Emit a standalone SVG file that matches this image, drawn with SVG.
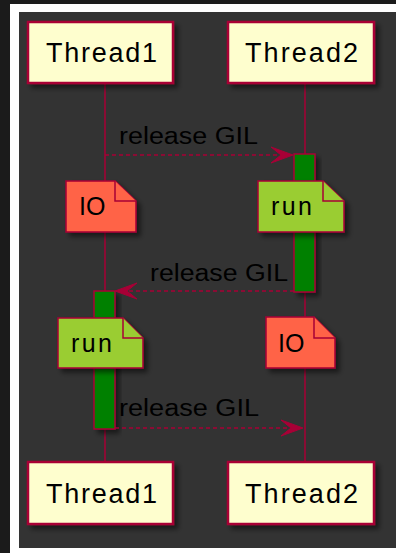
<svg xmlns="http://www.w3.org/2000/svg" width="396" height="553" viewBox="0 0 396 553">
<style>
.part{fill:#FEFECE;stroke:#A80036;stroke-width:2.5;filter:url(#sh)}
.ptxt{font-family:"Liberation Sans",Arial,sans-serif;font-size:27px;fill:#000}
.life{stroke:#A80036;stroke-width:1.5;fill:none}
.act{fill:#008000;stroke:#A80036;stroke-width:1.5;filter:url(#sh)}
.msg{stroke:#A80036;stroke-width:1.5;fill:none;stroke-dasharray:4,3}
.head{fill:#A80036;stroke:#A80036;stroke-width:1}
.mtxt{font-family:"Liberation Sans",Arial,sans-serif;font-size:23px;fill:#000}
.note{stroke:#A80036;stroke-width:1.5;filter:url(#sh)}
.fold{stroke:#A80036;stroke-width:1.5}
.io{fill:#FF6347}
.run{fill:#9ACD32}
.ntxt{font-family:"Liberation Sans",Arial,sans-serif;font-size:25px;fill:#000}
</style>
<defs>
<filter id="sh" x="-20%" y="-20%" width="150%" height="150%">
<feGaussianBlur in="SourceAlpha" stdDeviation="2.5"/>
<feOffset dx="4" dy="4" result="b"/>
<feComponentTransfer><feFuncA type="linear" slope="0.5"/></feComponentTransfer>
<feMerge><feMergeNode/><feMergeNode in="SourceGraphic"/></feMerge>
</filter>
</defs>
<rect x="0" y="0" width="396" height="553" fill="#1b1b1b"/>
<rect x="10" y="4" width="386" height="549" fill="#ffffff"/>
<rect x="19" y="12" width="377" height="536" fill="#333333"/>
<g id="lifelines">
<line class="life" x1="105" y1="83" x2="105" y2="462"/>
<line class="life" x1="305" y1="83" x2="305" y2="462"/>
</g>
<g id="act2"><rect class="act" x="294" y="154" width="21" height="138"/></g>
<g id="act1"><rect class="act" x="94" y="291" width="21" height="138"/></g>
<g id="connectors">
<line class="msg" x1="105" y1="155" x2="290" y2="155"/>
<polygon class="head" points="293,155 271,147 281,155 271,163"/>
<text class="mtxt" x="119" y="144" textLength="139" lengthAdjust="spacingAndGlyphs">release GIL</text>
<line class="msg" x1="294" y1="291" x2="118" y2="291"/>
<polygon class="head" points="115,291 137,283 127,291 137,299"/>
<text class="mtxt" x="150" y="281" textLength="138" lengthAdjust="spacingAndGlyphs">release GIL</text>
<line class="msg" x1="115" y1="428" x2="300" y2="428"/>
<polygon class="head" points="303,428 281,420 291,428 281,436"/>
<text class="mtxt" x="119" y="416" textLength="140" lengthAdjust="spacingAndGlyphs">release GIL</text>
</g>
<g id="Thread1_top"><rect class="part" x="28" y="22" width="145" height="61"/><text class="ptxt" x="46" y="62" textLength="111" lengthAdjust="spacing">Thread1</text></g>
<g id="Thread2_top"><rect class="part" x="228" y="22" width="146" height="61"/><text class="ptxt" x="245" y="62" textLength="113" lengthAdjust="spacing">Thread2</text></g>
<g id="Thread1_bottom"><rect class="part" x="28" y="462" width="145" height="62"/><text class="ptxt" x="46" y="503" textLength="111" lengthAdjust="spacing">Thread1</text></g>
<g id="Thread2_bottom"><rect class="part" x="228" y="462" width="146" height="62"/><text class="ptxt" x="245" y="503" textLength="113" lengthAdjust="spacing">Thread2</text></g>
<g id="note_io1"><path class="note io" d="M66,181 H115 L136,201 V232 H66 Z"/><path class="fold io" d="M115,181 V201 H136"/><text class="ntxt" x="79" y="215">IO</text></g>
<g id="note_run2"><path class="note run" d="M258,181 H323 L344,201 V232 H258 Z"/><path class="fold run" d="M323,181 V201 H344"/><text class="ntxt" x="271" y="215" textLength="41" lengthAdjust="spacing">run</text></g>
<g id="note_run1"><path class="note run" d="M58,318 H123 L143,338 V368 H58 Z"/><path class="fold run" d="M123,318 V338 H143"/><text class="ntxt" x="71" y="352" textLength="41" lengthAdjust="spacing">run</text></g>
<g id="note_io2"><path class="note io" d="M266,317 H314 L335,338 V368 H266 Z"/><path class="fold io" d="M314,317 V338 H335"/><text class="ntxt" x="278" y="352">IO</text></g>
</svg>
